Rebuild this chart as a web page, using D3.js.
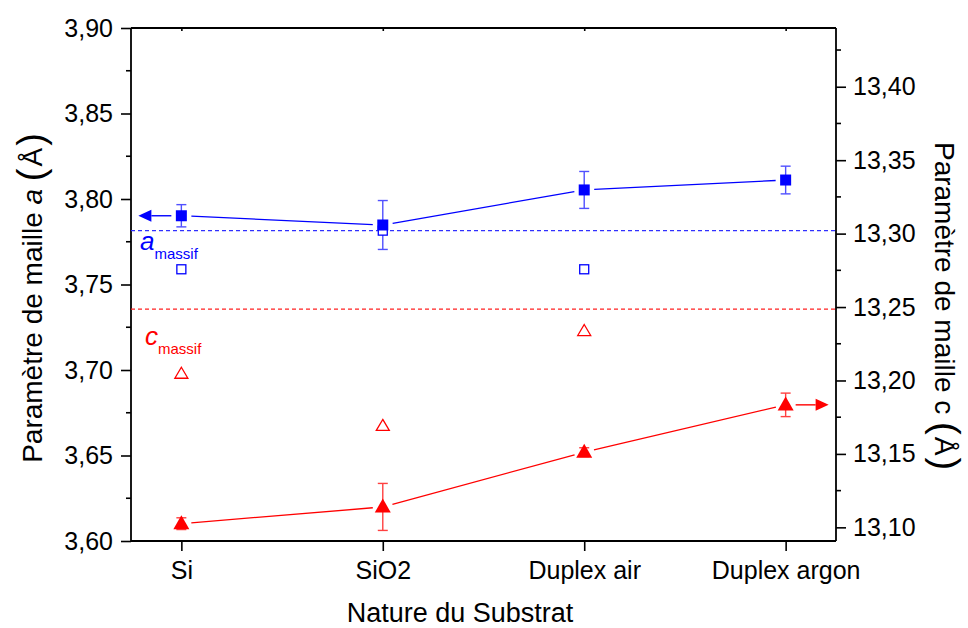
<!DOCTYPE html>
<html><head><meta charset="utf-8">
<script src="https://cdn.jsdelivr.net/npm/d3@7"></script>
<style>
body{margin:0;background:#fff;}
svg{display:block;font-family:"Liberation Sans",Arial,sans-serif;}
</style></head>
<body><svg id="c" width="968" height="628"></svg>
<script>
// ---- data ----
const categories = ["Si", "SiO2", "Duplex air", "Duplex argon"];
const aFilled = [3.7902, 3.7848, 3.8053, 3.8111];
const aErr    = [0.0065, 0.0143, 0.0108, 0.0081];
const aOpen   = [3.7589, 3.7815, 3.7589, null];
const cFilled = [13.1025, 13.1139, 13.1512, 13.1834];
const cErr    = [0.004, 0.016, 0.003, 0.008];
const cOpen   = [13.2045, 13.1690, 13.2336, null];
const aMassif = 3.7815;
const cMassif = 13.2486;
const leftTicks  = [3.60, 3.65, 3.70, 3.75, 3.80, 3.85, 3.90];
const rightTicks = [13.10, 13.15, 13.20, 13.25, 13.30, 13.35, 13.40];
const leftDomain = [3.60, 3.90];
const rightDomain = [13.0907, 13.44];

// ---- layout ----
const L = 131, R = 836, T = 28, B = 541;
const svg = d3.select("#c");
const x = d3.scalePoint().domain(categories).range([L, R]).padding(0.25);
const yL = d3.scaleLinear().domain(leftDomain).range([B, T]);
const yR = d3.scaleLinear().domain(rightDomain).range([B, T]);
const fmt = v => d3.format(".2f")(v).replace(".", ",");
const BLUE = "#0000ff", RED = "#ff0000";

// axes
const axL = d3.axisLeft(yL).tickValues(leftTicks).tickFormat(fmt).tickSize(10).tickPadding(8);
const axR = d3.axisRight(yR).tickValues(rightTicks).tickFormat(fmt).tickSize(10).tickPadding(7);
const axB = d3.axisBottom(x).tickSize(10).tickPadding(10);
const axT = d3.axisTop(x).tickSize(-3).tickFormat("");

function styleAxis(g){
  g.select(".domain").attr("stroke","#000").attr("stroke-width",1.8);
  g.selectAll(".tick line").attr("stroke","#000").attr("stroke-width",1.6);
  g.selectAll(".tick text").attr("fill","#000").style("font-size","25px").style("font-family","'Liberation Sans',Arial,sans-serif");
}
// minor ticks
const leftMinor = d3.range(3.625, 3.90, 0.05);
const rightMinor = d3.range(13.125, 13.44, 0.05);
svg.append("g").selectAll("line").data(leftMinor).join("line")
  .attr("x1", L-5).attr("x2", L).attr("y1", d=>yL(d)).attr("y2", d=>yL(d))
  .attr("stroke","#000").attr("stroke-width",1.6);
svg.append("g").selectAll("line").data(rightMinor).join("line")
  .attr("x1", R).attr("x2", R+5).attr("y1", d=>yR(d)).attr("y2", d=>yR(d))
  .attr("stroke","#000").attr("stroke-width",1.6);

const gL = svg.append("g").attr("transform",`translate(${L},0)`).call(axL); styleAxis(gL);
const gR = svg.append("g").attr("transform",`translate(${R},0)`).call(axR); styleAxis(gR);
const gB = svg.append("g").attr("transform",`translate(0,${B})`).call(axB); styleAxis(gB);
const gT = svg.append("g").attr("transform",`translate(0,${T})`).call(axT); styleAxis(gT);
gL.select(".domain").attr("d",`M0,${T}V${B}`);
gR.select(".domain").attr("d",`M0,${T}V${B}`);
gB.select(".domain").attr("d",`M${L},0H${R}`);
gT.select(".domain").attr("d",`M${L},0H${R}`);

// reference dashed lines
svg.append("line").attr("x1",L).attr("x2",R).attr("y1",yL(aMassif)).attr("y2",yL(aMassif))
  .attr("stroke","#3030ff").attr("stroke-width",1.2).attr("stroke-dasharray","4,3");
svg.append("line").attr("x1",L).attr("x2",R).attr("y1",yR(cMassif)).attr("y2",yR(cMassif))
  .attr("stroke","#ff2020").attr("stroke-width",1.2).attr("stroke-dasharray","4,3");

// connecting lines with gaps around markers
function gapLines(vals, ys, color, gap){
  const pts = vals.map((v,i)=>[x(categories[i]), ys(v)]);
  for(let i=0;i<pts.length-1;i++){
    const [x1,y1]=pts[i],[x2,y2]=pts[i+1];
    const dx=x2-x1, dy=y2-y1, len=Math.hypot(dx,dy);
    const ux=dx/len, uy=dy/len;
    svg.append("line").attr("x1",x1+ux*gap).attr("y1",y1+uy*gap)
      .attr("x2",x2-ux*gap).attr("y2",y2-uy*gap)
      .attr("stroke",color).attr("stroke-width",1.3);
  }
}
gapLines(aFilled, yL, BLUE, 10);
gapLines(cFilled, yR, RED, 10);

// error bars
function errBars(vals, errs, ys, color){
  const g = svg.append("g").attr("stroke",color).attr("stroke-width",1.4);
  vals.forEach((v,i)=>{
    const cx = x(categories[i]), y1 = ys(v+errs[i]), y2 = ys(v-errs[i]);
    g.append("line").attr("x1",cx).attr("x2",cx).attr("y1",y1).attr("y2",y2);
    g.append("line").attr("x1",cx-5).attr("x2",cx+5).attr("y1",y1).attr("y2",y1);
    g.append("line").attr("x1",cx-5).attr("x2",cx+5).attr("y1",y2).attr("y2",y2);
  });
}
errBars(aFilled, aErr, yL, "#5050ff");
errBars(cFilled, cErr, yR, "#ff4040");

// open markers
const sq = 10;
svg.append("g").selectAll("rect").data(aOpen.map((v,i)=>({v,i})).filter(d=>d.v!=null)).join("rect")
  .attr("x",d=>x(categories[d.i])-sq/2+0.5).attr("y",d=>yL(d.v)-sq/2+0.5)
  .attr("width",sq-1).attr("height",sq-1)
  .attr("fill","#fff").attr("stroke",BLUE).attr("stroke-width",1.3);
const tri = (cx,cy,w,h)=>`M${cx},${cy-h*0.6}L${cx+w/2},${cy+h*0.4}L${cx-w/2},${cy+h*0.4}Z`;
svg.append("g").selectAll("path").data(cOpen.map((v,i)=>({v,i})).filter(d=>d.v!=null)).join("path")
  .attr("d",d=>tri(x(categories[d.i]), yR(d.v), 13, 11))
  .attr("fill","none").attr("stroke",RED).attr("stroke-width",1.3);

// filled markers
svg.append("g").selectAll("rect").data(aFilled).join("rect")
  .attr("x",(d,i)=>x(categories[i])-5.5).attr("y",d=>yL(d)-5.5)
  .attr("width",11).attr("height",11).attr("fill",BLUE);
svg.append("g").selectAll("path").data(cFilled).join("path")
  .attr("d",(d,i)=>tri(x(categories[i]), yR(d), 16, 14))
  .attr("fill",RED);

// arrows
function arrow(x0, y, dir, color){
  const lineEnd = x0 + dir*20, tip = x0 + dir*33;
  svg.append("line").attr("x1",x0).attr("x2",lineEnd).attr("y1",y).attr("y2",y)
    .attr("stroke",color).attr("stroke-width",1.4);
  svg.append("path").attr("d",`M${tip},${y}L${lineEnd},${y-6}L${lineEnd},${y+6}Z`).attr("fill",color);
}
arrow(x(categories[0])-10, yL(aFilled[0]), -1, BLUE);
arrow(x(categories[3])+10, yR(cFilled[3]), 1, RED);

// massif labels
const la = svg.append("text").attr("x",L+9).attr("y",yL(aMassif)+19).attr("fill",BLUE);
la.append("tspan").text("a").style("font-style","italic").style("font-size","26px");
la.append("tspan").text("massif").style("font-size","15px").attr("dy",9);
const lc = svg.append("text").attr("x",L+14).attr("y",yR(cMassif)+36).attr("fill",RED);
lc.append("tspan").text("c").style("font-style","italic").style("font-size","26px");
lc.append("tspan").text("massif").style("font-size","15px").attr("dy",9);

// axis titles
svg.append("text").attr("x",460).attr("y",622).attr("text-anchor","middle")
  .style("font-size","27px").attr("fill","#000").text("Nature du Substrat");

const tl = svg.append("text").attr("transform",`translate(42,298) rotate(-90)`)
  .attr("text-anchor","middle").attr("fill","#000").style("font-size","28px");
tl.append("tspan").text("Paramètre de maille ");
tl.append("tspan").text("a").style("font-style","italic");
tl.append("tspan").text(" ");
tl.append("tspan").text("(").style("font-size","38px").attr("dy",2);
tl.append("tspan").text("Å").attr("dy",-2).attr("dx",2);
tl.append("tspan").text(")").style("font-size","38px").attr("dy",2).attr("dx",2);

const tr = svg.append("text").attr("transform",`translate(935,306) rotate(90)`)
  .attr("text-anchor","middle").attr("fill","#000").style("font-size","28px");
tr.append("tspan").text("Paramètre de maille c ");
tr.append("tspan").text("(").style("font-size","38px").attr("dy",2);
tr.append("tspan").text("Å").attr("dy",-2).attr("dx",2);
tr.append("tspan").text(")").style("font-size","38px").attr("dy",2).attr("dx",2);
</script></body></html>
